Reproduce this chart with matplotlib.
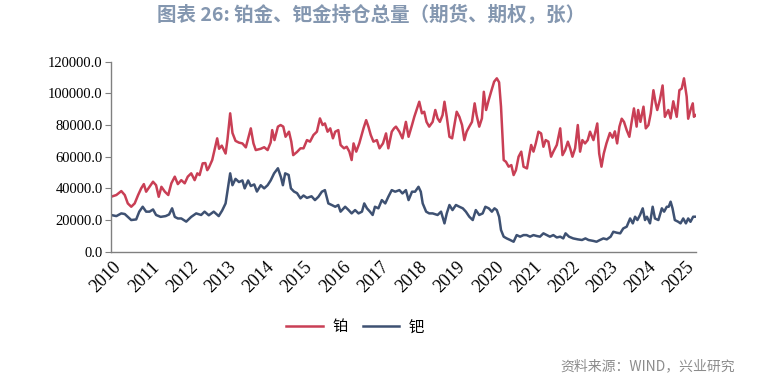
import matplotlib
matplotlib.use("Agg")
import matplotlib.pyplot as plt
import matplotlib.transforms as mtrans
from matplotlib.font_manager import FontProperties

# ---------------------------------------------------------------------------
# Data — open interest, contracts
# ---------------------------------------------------------------------------

pt_years = [
    2010.00, 2010.14, 2010.27, 2010.36, 2010.44, 2010.53, 2010.62, 2010.71, 2010.79, 2010.86,
    2010.92, 2011.01, 2011.10, 2011.18, 2011.25, 2011.32, 2011.41, 2011.50, 2011.58, 2011.67,
    2011.75, 2011.84, 2011.93, 2012.01, 2012.10, 2012.19, 2012.26, 2012.32, 2012.40, 2012.47,
    2012.52, 2012.56, 2012.65, 2012.78, 2012.83, 2012.90, 2013.00, 2013.05, 2013.12, 2013.18,
    2013.26, 2013.35, 2013.44, 2013.53, 2013.66, 2013.73, 2013.79, 2013.92, 2014.01, 2014.10,
    2014.18, 2014.22, 2014.28, 2014.37, 2014.44, 2014.51, 2014.57, 2014.66, 2014.72, 2014.77,
    2014.87, 2014.96, 2015.04, 2015.13, 2015.21, 2015.30, 2015.39, 2015.47, 2015.54, 2015.60,
    2015.67, 2015.74, 2015.81, 2015.87, 2015.95, 2016.01, 2016.10, 2016.17, 2016.24, 2016.30,
    2016.35, 2016.42, 2016.50, 2016.61, 2016.68, 2016.74, 2016.80, 2016.87, 2016.96, 2017.03,
    2017.12, 2017.20, 2017.26, 2017.35, 2017.41, 2017.46, 2017.55, 2017.63, 2017.72, 2017.79,
    2017.88, 2017.94, 2018.00, 2018.07, 2018.14, 2018.20, 2018.26, 2018.33, 2018.42, 2018.49,
    2018.55, 2018.61, 2018.68, 2018.73, 2018.79, 2018.86, 2018.93, 2018.99, 2019.05, 2019.12,
    2019.19, 2019.25, 2019.31, 2019.38, 2019.45, 2019.52, 2019.57, 2019.64, 2019.71, 2019.76,
    2019.82, 2019.89, 2019.95, 2020.03, 2020.10, 2020.16, 2020.21, 2020.28, 2020.34, 2020.41,
    2020.48, 2020.54, 2020.60, 2020.67, 2020.74, 2020.80, 2020.89, 2020.95, 2021.00, 2021.06,
    2021.12, 2021.19, 2021.26, 2021.32, 2021.38, 2021.45, 2021.52, 2021.58, 2021.67, 2021.76,
    2021.82, 2021.89, 2021.96, 2022.02, 2022.08, 2022.15, 2022.22, 2022.28, 2022.34, 2022.41,
    2022.48, 2022.54, 2022.63, 2022.73, 2022.78, 2022.84, 2022.90, 2022.97, 2023.06, 2023.13,
    2023.19, 2023.25, 2023.31, 2023.37, 2023.43, 2023.50, 2023.57, 2023.63, 2023.69, 2023.76,
    2023.80, 2023.86, 2023.94, 2024.00, 2024.07, 2024.13, 2024.20, 2024.26, 2024.30, 2024.37,
    2024.44, 2024.50, 2024.59, 2024.65, 2024.72, 2024.81, 2024.88, 2024.94, 2025.00, 2025.07,
    2025.11, 2025.17, 2025.23, 2025.26, 2025.31,
]
pt_vals = [
    34700, 35800, 38300, 35800, 30500, 28400, 30500, 35800, 40000, 42700,
    37900, 41000, 44200, 42000, 34700, 41000, 37900, 35800, 43200, 47400,
    42700, 45200, 43200, 47400, 49500, 45200, 49500, 48400, 55800, 56000,
    51500, 53000, 57900, 71600, 65000, 67000, 62000, 71000, 87400, 75000,
    70000, 68900, 68400, 65900, 77900, 68400, 64200, 65000, 66000, 64200,
    69000, 76800, 70500, 79000, 80000, 79000, 72600, 75800, 69500, 61000,
    63000, 65300, 65300, 70500, 69500, 73700, 75800, 84200, 80000, 81000,
    75800, 77900, 71600, 75800, 76800, 67400, 65300, 66300, 63200, 57900,
    68400, 63200, 68400, 77900, 83100, 78900, 73700, 69500, 70500, 65300,
    68400, 74700, 65300, 75800, 77900, 79000, 75800, 71600, 82000, 72600,
    80000, 85200, 89500, 94700, 87400, 88400, 82000, 79000, 82000, 89500,
    84200, 82000, 86300, 94700, 85200, 72600, 71600, 80000, 88400, 85200,
    80000, 70500, 75800, 79000, 82000, 93700, 86300, 79000, 84200, 101000,
    89500, 96000, 101000, 107400, 109500, 107000, 91600, 57900, 56800, 53700,
    54700, 48400, 51500, 60000, 63200, 53700, 52600, 61000, 67400, 63200,
    68400, 75800, 74700, 66300, 70500, 69500, 60000, 63200, 67400, 77900,
    61000, 64200, 69500, 65300, 60000, 65300, 80000, 63200, 70500, 68400,
    70500, 75800, 70500, 81000, 62000, 53700, 62000, 68400, 75000, 72000,
    76000, 68400, 79000, 84000, 82000, 76800, 72600, 82000, 90500, 79000,
    89500, 82000, 91600, 77900, 80000, 87400, 102000, 93700, 89500, 96000,
    105000, 85200, 89500, 84200, 95000, 85200, 102000, 103000, 109500, 98000,
    84000, 89500, 93700, 85200, 86300,
]

pd_years = [
    2010.00, 2010.14, 2010.27, 2010.36, 2010.44, 2010.53, 2010.66, 2010.74, 2010.83, 2010.92,
    2011.01, 2011.10, 2011.18, 2011.30, 2011.43, 2011.52, 2011.60, 2011.67, 2011.75, 2011.84,
    2011.97, 2012.10, 2012.23, 2012.36, 2012.45, 2012.56, 2012.69, 2012.82, 2012.91, 2013.00,
    2013.12, 2013.18, 2013.26, 2013.35, 2013.44, 2013.50, 2013.59, 2013.66, 2013.75, 2013.82,
    2013.92, 2014.01, 2014.10, 2014.18, 2014.27, 2014.37, 2014.45, 2014.50, 2014.56, 2014.65,
    2014.71, 2014.79, 2014.87, 2014.96, 2015.04, 2015.13, 2015.25, 2015.34, 2015.43, 2015.52,
    2015.60, 2015.69, 2015.78, 2015.87, 2015.95, 2016.01, 2016.13, 2016.22, 2016.30, 2016.39,
    2016.48, 2016.57, 2016.63, 2016.70, 2016.78, 2016.85, 2016.91, 2017.00, 2017.09, 2017.18,
    2017.26, 2017.35, 2017.44, 2017.55, 2017.63, 2017.72, 2017.79, 2017.88, 2017.96, 2018.05,
    2018.11, 2018.16, 2018.25, 2018.33, 2018.42, 2018.55, 2018.64, 2018.73, 2018.79, 2018.86,
    2018.94, 2019.03, 2019.12, 2019.21, 2019.29, 2019.38, 2019.47, 2019.55, 2019.64, 2019.73,
    2019.80, 2019.89, 2019.97, 2020.04, 2020.10, 2020.16, 2020.21, 2020.28, 2020.36, 2020.45,
    2020.54, 2020.62, 2020.71, 2020.80, 2020.88, 2020.97, 2021.06, 2021.15, 2021.23, 2021.32,
    2021.41, 2021.49, 2021.58, 2021.67, 2021.76, 2021.84, 2021.90, 2021.99, 2022.10, 2022.22,
    2022.33, 2022.42, 2022.50, 2022.63, 2022.71, 2022.80, 2022.89, 2022.98, 2023.08, 2023.15,
    2023.24, 2023.33, 2023.41, 2023.50, 2023.59, 2023.66, 2023.72, 2023.78, 2023.85, 2023.92,
    2023.98, 2024.03, 2024.11, 2024.18, 2024.24, 2024.33, 2024.42, 2024.48, 2024.55, 2024.60,
    2024.65, 2024.70, 2024.76, 2024.85, 2024.91, 2024.98, 2025.05, 2025.11, 2025.17, 2025.24,
    2025.31,
]
pd_vals = [
    23200, 22500, 24200, 23800, 22000, 20000, 20400, 25300, 28400, 25300,
    25300, 26700, 23200, 22000, 22500, 23500, 27400, 22000, 21000, 21000,
    19000, 22000, 24200, 23200, 25300, 23000, 25300, 22500, 26000, 30500,
    49500, 42000, 46000, 44000, 45000, 40000, 45000, 41500, 42500, 38000,
    42000, 40000, 42000, 45000, 49500, 52700, 47000, 42000, 49500, 48500,
    40000, 38000, 37000, 33700, 35500, 34000, 35000, 32600, 34700, 37900,
    38900, 30500, 29500, 28400, 29500, 25300, 28400, 26300, 24200, 26300,
    24200, 25300, 30500, 27400, 25300, 23200, 28400, 27400, 32600, 30500,
    34700, 38900, 37900, 38900, 36800, 38900, 32600, 37900, 37900, 41000,
    37900, 30500, 25300, 24200, 24200, 23200, 25300, 17900, 24200, 29500,
    26300, 29500, 28400, 27400, 25300, 22100, 20000, 26300, 23200, 24200,
    28400, 27400, 25300, 27400, 26300, 22100, 13700, 9500, 8400, 7400,
    6300, 10500, 9500, 10500, 10500, 9500, 10500, 9900, 9500, 11600,
    10500, 9500, 10500, 9000, 9500, 8400, 11600, 9500, 8400, 7800,
    7400, 8400, 7400, 6800, 6300, 7400, 8400, 7800, 9500, 12600,
    12000, 11600, 14700, 15800, 21000, 17900, 22100, 20000, 23200, 27400,
    20000, 22100, 17900, 28400, 21000, 20000, 27400, 25300, 28400, 28400,
    31600, 27400, 20000, 18900, 17900, 21000, 17900, 21000, 18900, 22100,
    22100,
]

year_ticks = list(range(2010, 2026))
y_ticks = [0, 20000, 40000, 60000, 80000, 100000, 120000]

RED = "#C93F55"
NAVY = "#3E5172"
TITLE_COLOR = "#8497B0"
SERIF = "Liberation Serif"
CJK = ["Noto Sans CJK SC", "DejaVu Sans"]

# ---------------------------------------------------------------------------
# Plot
# ---------------------------------------------------------------------------

fig = plt.figure(figsize=(7.74, 3.80), dpi=100)
ax = fig.add_axes([0.1434, 0.3376, 0.7556, 0.5])

ax.plot(pt_years, pt_vals, color=RED, linewidth=1.8, label="铂")
ax.plot(pd_years, pd_vals, color=NAVY, linewidth=1.8, label="钯")

ax.set_xlim(2010, 2025.31)
ax.set_ylim(0, 120000)

ax.tick_params(axis="x", length=0, pad=5)
ax.tick_params(axis="y", length=4, width=0.8, color="#808080", pad=2)

ax.set_yticks(y_ticks)
ax.set_yticklabels([f"{v:.1f}" for v in y_ticks], fontfamily=SERIF, fontsize=10.5)
ax.set_xticks(year_ticks)
ax.set_xticklabels([str(y) for y in year_ticks], fontfamily=SERIF, fontsize=13,
                   rotation=45, ha="right", va="top")

# shift the rotated year labels to the right, like the original
# (done after tick_params, which would reset the label transforms)
offset = mtrans.ScaledTranslation(10 / 72, 0, fig.dpi_scale_trans)
for lbl in ax.get_xticklabels():
    lbl.set_transform(lbl.get_transform() + offset)

for side in ["top", "right"]:
    ax.spines[side].set_visible(False)
for side in ["left", "bottom"]:
    ax.spines[side].set_color("#808080")
    ax.spines[side].set_linewidth(1.0)

fig.text(0.48, 0.96, "图表 26: 铂金、钯金持仓总量（期货、期权，张）",
         ha="center", va="center", fontsize=14, fontweight="bold",
         color=TITLE_COLOR, family=CJK)

handles, labels = ax.get_legend_handles_labels()
fig.legend(handles, labels, loc="center", bbox_to_anchor=(355 / 774, 1 - 327 / 380),
           ncol=2, frameon=False, prop=FontProperties(family=CJK, size=11),
           handlelength=2.4, columnspacing=1.0, handletextpad=0.6)

fig.text(0.95, 1 - 366 / 380, "资料来源：WIND，兴业研究", ha="right", va="center",
         fontsize=10, color="#8C8C8C", family=CJK)

fig.savefig("out.png", dpi=100)
